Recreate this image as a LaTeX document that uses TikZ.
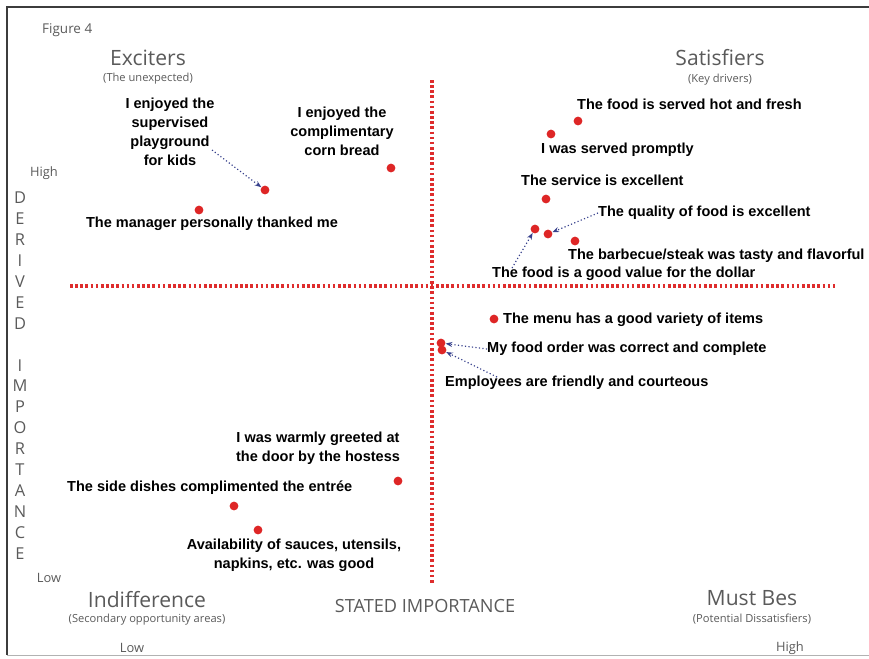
\documentclass[tikz,border=0pt]{standalone}
\usepackage{fontspec}
\newfontfamily\lblfont{Liberation Sans}
\newfontfamily\ttlfont{Open Sans}
\definecolor{dotred}{RGB}{222,38,38}
\definecolor{axisred}{RGB}{222,45,45}
\definecolor{greytxt}{RGB}{90,90,90}
\definecolor{arrowblue}{RGB}{55,65,140}
\definecolor{framegray}{RGB}{60,60,60}
\usetikzlibrary{calc, positioning, arrows.meta}

\begin{document}
\begin{tikzpicture}[
  x=0.03cm, y=-0.03cm,
  lbl/.style={inner sep=0pt, font=\lblfont\bfseries\fontsize{12.4}{16.2}\selectfont},
  pt/.style={circle, fill=dotred, inner sep=0pt, minimum size=7.5pt},
  quad/.style={inner sep=0pt, text=greytxt, font=\ttlfont\fontsize{18}{20}\selectfont},
  sub/.style={inner sep=0pt, text=greytxt, font=\ttlfont\fontsize{9.5}{10}\selectfont},
  tick/.style={inner sep=0pt, text=greytxt, font=\ttlfont\fontsize{11}{12}\selectfont},
  axis/.style={axisred, line width=2.8pt, dash pattern=on 2.2pt off 2.2pt},
  arrow/.style={-{Stealth[length=2mm, width=1.5mm]}, arrowblue, line width=1pt, dotted},
]
\useasboundingbox (0,0) rectangle (869,658);
% frame
\draw[framegray, line width=1.2pt] (869,7) -- (7,7) -- (7,655);
\draw[gray!60, line width=0.8pt] (7,655) -- (869,655);
\node[tick, anchor=west, font=\ttlfont\fontsize{11.5}{12}\selectfont] (fig) at (42,30) {Figure 4};

% axes
\coordinate (xl) at (70,286);
\coordinate (xr) at (835,286);
\coordinate (yt) at (432,80);
\coordinate (yb) at (432,585);
\draw[axis] (xl) -- (xr);
\draw[axis] (yt) -- (yb);

% quadrant titles
\node[quad] (exc) at (148,58) {Exciters};
\node[sub] (excs) at (148,79) {(The unexpected)};
\node[quad] (sat) at (720,58) {Satisfiers};
\node[sub] (sats) at (720,80) {(Key drivers)};
\node[quad] (ind) at (147,600) {Indifference};
\node[sub] (inds) at (147,620) {(Secondary opportunity areas)};
\node[quad] (must) at (752,598) {Must Bes};
\node[sub] (musts) at (752,619) {(Potential Dissatisfiers)};

% axis captions
\node[tick] (hi) at (44,173) {High};
\node[tick] (lo) at (49,578) {Low};
\node[tick] (xlo) at (132,648) {Low};
\node[tick] (xhi) at (790,648) {High};
\node[inner sep=0pt, text=greytxt, font=\ttlfont\fontsize{15.5}{16}\selectfont] (stated) at (425,606) {STATED IMPORTANCE};
\foreach \ch [count=\i from 0] in {D,E,R,I,V,E,D,{},I,M,P,O,R,T,A,N,C,E}
  \node[inner sep=0pt, text=greytxt, font=\ttlfont\fontsize{14}{15}\selectfont] at (20,198+20.9*\i) {\ch};

% points
\node[pt] (dplay) at (265,190) {};
\node[pt] (dcorn) at (391,168) {};
\node[pt] (dmgr) at (199,210) {};
\node[pt] (dhot) at (578,121) {};
\node[pt] (dprompt) at (551,134) {};
\node[pt] (dserv) at (546,199) {};
\node[pt] (dvalue) at (535,229) {};
\node[pt] (dqual) at (548,234) {};
\node[pt] (dbbq) at (575,241) {};
\node[pt] (dmenu) at (494,319) {};
\node[pt] (dorder) at (441,343) {};
\node[pt] (dempl) at (442,350) {};
\node[pt] (dgreet) at (398,481) {};
\node[pt] (dside) at (234,506) {};
\node[pt] (davail) at (258,530) {};

% labels
\node[lbl, align=center] (play) at (170,132) {I enjoyed the\\supervised\\playground\\for kids};
\node[lbl, align=center] (corn) at (342,131) {I enjoyed the\\complimentary\\corn bread};
\node[lbl] (mgr) at (212,224) {The manager personally thanked me};
\node[lbl, anchor=west] (hot) at (577,104) {The food is served hot and fresh};
\node[lbl, anchor=west] (prompt) at (541,150) {I was served promptly};
\node[lbl, anchor=west] (serv) at (521,180) {The service is excellent};
\node[lbl, anchor=west] (qual) at (598,213) {The quality of food is excellent};
\node[lbl, anchor=west] (bbq) at (568,256) {The barbecue/steak was tasty and flavorful};
\node[lbl, anchor=west] (value) at (492,274) {The food is a good value for the dollar};
\node[lbl, anchor=west] (menu) at (503,320) {The menu has a good variety of items};
\node[lbl, anchor=west] (order) at (487,349) {My food order was correct and complete};
\node[lbl, anchor=west] (empl) at (445,383) {Employees are friendly and courteous};
\node[lbl, align=center] (greet) at (318,448) {I was warmly greeted at\\the door by the hostess};
\node[lbl, anchor=west] (side) at (67,488) {The side dishes complimented the entr\'ee};
\node[lbl, align=center] (avail) at (294,555) {Availability of sauces, utensils,\\napkins, etc. was good};

% pointers
\coordinate (pplay) at (212,150);
\coordinate (pvalue) at (512,268);
\coordinate (pempl) at (497,377);
\draw[arrow] (pplay) -- (dplay);
\draw[arrow] (qual.west) -- (dqual);
\draw[arrow] (pvalue) -- (dvalue);
\draw[arrow] (order.west) -- (dorder);
\draw[arrow] (pempl) -- (dempl);
\end{tikzpicture}
\end{document}
